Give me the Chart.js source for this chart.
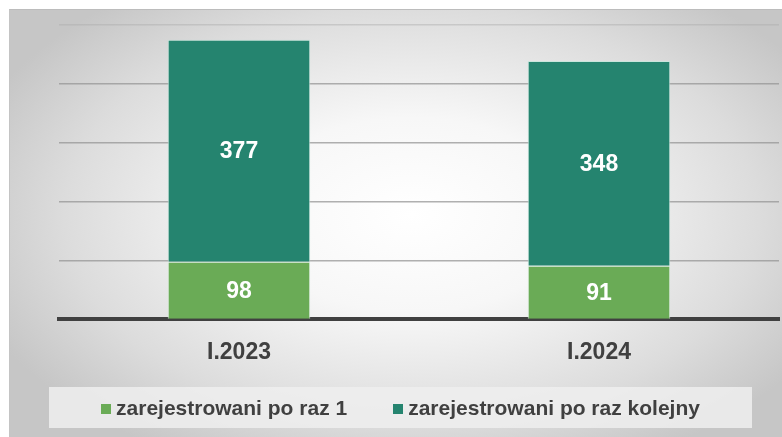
<!DOCTYPE html>
<html>
<head>
<meta charset="utf-8">
<script src="https://cdn.jsdelivr.net/npm/chart.js@4/dist/chart.umd.min.js"></script>
<style>
  html, body { margin: 0; padding: 0; background: #ffffff; }
  #frame {
    position: absolute; left: 9px; top: 9px; width: 773px; height: 428px;
    background: radial-gradient(ellipse 60% 65% at 52% 48%, #ffffff 0%, #f7f7f7 35%, #dcdcdc 75%, #c6c6c6 100%);
    border-top: 1px solid #bcbcbc; border-left: 1px solid #c4c4c4;
    box-sizing: border-box;
  }
  #chart { display: block; }
  #legend {
    position: absolute; left: 39px; top: 377px; width: 703px; height: 41px;
    background: rgba(238,238,238,0.85);
    display: flex; justify-content: center; align-items: center; gap: 46px;
    font: bold 21px 'Liberation Sans', Arial, sans-serif; color: #404040;
  }
  #legend span.item { display: flex; align-items: center; gap: 5px; }
  #legend span.box { width: 10px; height: 10px; display: inline-block; margin-top: 2px; }
</style>
</head>
<body>
<div id="frame"><canvas id="chart" width="772" height="427"></canvas><div id="legend"></div></div>
<script>
// data
const categories = ['I.2023', 'I.2024']
const firstTime = [98, 91]       // zarejestrowani po raz 1
const nextTime = [377, 348]      // zarejestrowani po raz kolejny
const seriesNames = ['zarejestrowani po raz 1', 'zarejestrowani po raz kolejny']
const seriesColors = ['#6aab56', '#25846f']

const FONT = "'Liberation Sans', Arial, sans-serif"

/* value labels in the middle of each segment */
const barLabels = {
  id: 'barLabels',
  afterDatasetsDraw(chart) {
    const ctx = chart.ctx
    ctx.save()
    ctx.fillStyle = '#ffffff'
    ctx.font = 'bold 23px ' + FONT
    ctx.textAlign = 'center'
    ctx.textBaseline = 'middle'
    chart.data.datasets.forEach((ds, i) => {
      chart.getDatasetMeta(i).data.forEach((bar, j) => {
        ctx.fillText(ds.data[j], bar.x, (bar.y + bar.base) / 2 + 1)
      })
    })
    ctx.restore()
  }
}

const chart = new Chart(document.getElementById('chart'), {
  type: 'bar',
  data: {
    labels: categories,
    datasets: [{
        label: seriesNames[0],
        data: firstTime,
        backgroundColor: seriesColors[0],
        borderColor: 'rgba(225,240,230,0.9)',
        borderWidth: 1
      },
      {
        label: seriesNames[1],
        data: nextTime,
        backgroundColor: seriesColors[1],
        borderColor: 'rgba(200,230,220,0.9)',
        borderWidth: 1
      }
    ]
  },
  options: {
    responsive: false,
    animation: false,
    categoryPercentage: 1,
    barPercentage: 0.396,
    layout: {
      padding: { left: 49, right: 3, top: 15, bottom: 52 }
    },
    scales: {
      x: {
        stacked: true,
        grid: { display: false, drawTicks: false },
        border: { display: true, color: '#404040', width: 4 },
        ticks: {
          color: '#404040',
          padding: 19,
          font: { family: FONT, size: 23, weight: 'bold' }
        }
      },
      y: {
        stacked: true,
        min: 0,
        max: 500,
        ticks: { display: false, stepSize: 100 },
        border: { display: false },
        grid: {
          drawTicks: false,
          lineWidth: 1.5,
          color: c => c.tick && c.tick.value === 500 ? 'rgba(170,170,170,0.45)' : 'rgba(150,150,150,0.75)'
        }
      }
    },
    plugins: {
      tooltip: { enabled: false },
      legend: { display: false }
    }
  },
  plugins: [barLabels]
})

/* html legend built from the datasets */
const legendEl = document.getElementById('legend')
chart.data.datasets.forEach(ds => {
  const item = document.createElement('span')
  item.className = 'item'
  const box = document.createElement('span')
  box.className = 'box'
  box.style.background = ds.backgroundColor
  item.appendChild(box)
  item.appendChild(document.createTextNode(ds.label))
  legendEl.appendChild(item)
})
</script>
</body>
</html>
